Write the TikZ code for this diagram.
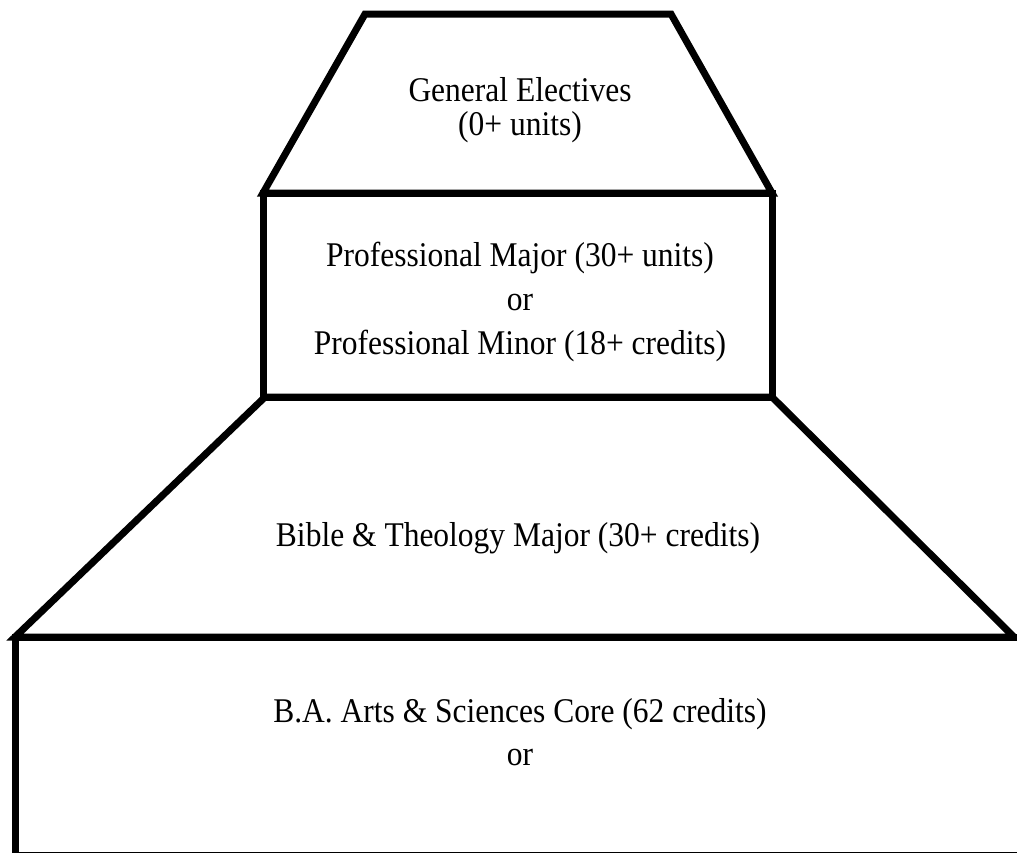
\documentclass[tikz,border=0pt]{standalone}
\usepackage{fontspec}
\usepackage{graphicx}
\setmainfont{Liberation Serif}
\newcommand{\stretchtext}[1]{\scalebox{1}[1.1]{#1}}
\begin{document}
\begin{tikzpicture}[x=1pt,y=-1pt,
    tier/.style={line width=7pt,line join=miter},
    label/.style={anchor=base,inner sep=0pt,font=\fontsize{31.5}{35}\selectfont}]
    \useasboundingbox (0,0) rectangle (1017,852);
    \clip (0,0) rectangle (1017,852);
    % general electives
    \draw[tier] (365,14) -- (671,14) -- (772,193) -- (263,193) -- cycle;
    % professional major / minor
    \draw[tier] (263,193) rectangle (772,397);
    % bible and theology
    \draw[tier] (265,397) -- (772,397) -- (1014,637) -- (15,637) -- cycle;
    % core, runs off the page
    \draw[tier] (15,637) rectangle (1040,855);
    \node[label] (electives) at (520,101) {\stretchtext{General Electives}};
    \node[label] (electivesunits) at (520,135) {\stretchtext{(0+ units)}};
    \node[label] (major) at (520,266) {\stretchtext{Professional Major (30+ units)}};
    \node[label] (majoror) at (520,310) {\stretchtext{or}};
    \node[label] (minor) at (520,354) {\stretchtext{Professional Minor (18+ credits)}};
    \node[label] (bible) at (518,546) {\stretchtext{Bible \& Theology Major (30+ credits)}};
    \node[label] (core) at (520,722) {\stretchtext{B.A. Arts \& Sciences Core (62 credits)}};
    \node[label] (coreor) at (520,765) {\stretchtext{or}};
\end{tikzpicture}
\end{document}
